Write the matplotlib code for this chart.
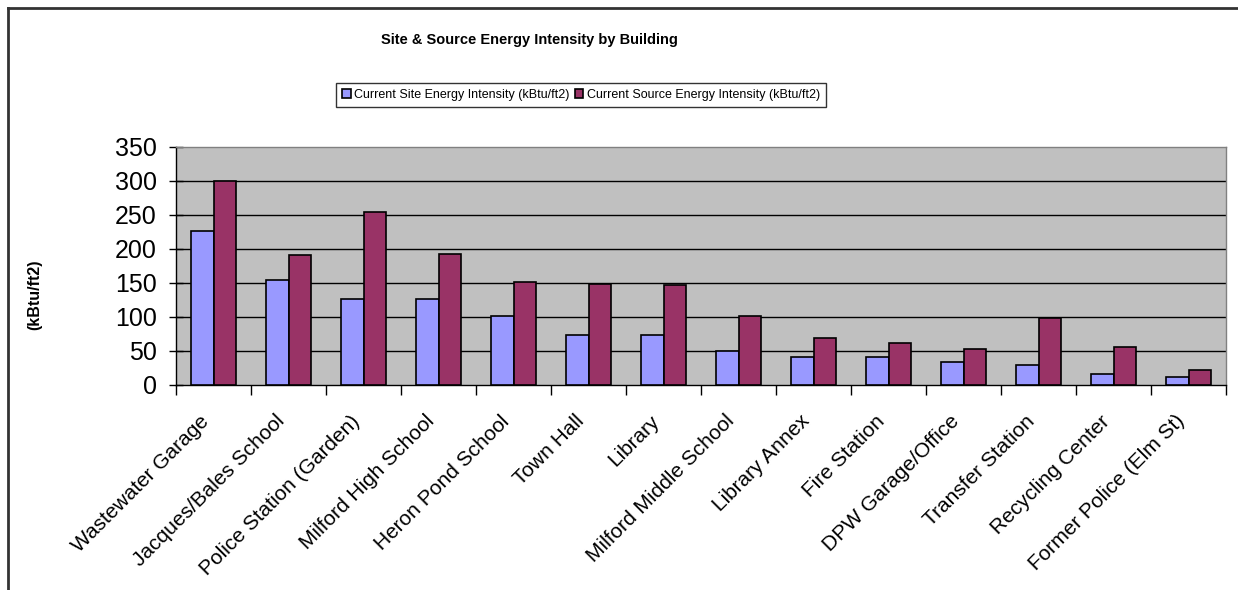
import numpy as np
import matplotlib
matplotlib.use('Agg')
import matplotlib.pyplot as plt
import matplotlib.transforms as mtransforms
from matplotlib.lines import Line2D

plt.rcParams['font.family'] = ['Liberation Sans', 'DejaVu Sans']

# Buildings and their energy intensities (kBtu/ft2)
buildings = ['Wastewater Garage', 'Jacques/Bales School', 'Police Station (Garden)',
             'Milford High School', 'Heron Pond School', 'Town Hall', 'Library',
             'Milford Middle School', 'Library Annex', 'Fire Station',
             'DPW Garage/Office', 'Transfer Station', 'Recycling Center',
             'Former Police (Elm St)']
site_eui = [226, 155, 127, 127, 102, 73, 73, 50.5, 41.5, 41.5, 34, 29.5, 16.5, 12.5]
source_eui = [300, 191, 254, 193, 151, 148.5, 146.5, 101, 69, 62.5, 52.5, 98.5, 56.5, 21.5]
series_names = ['Current Site Energy Intensity (kBtu/ft2)',
                'Current Source Energy Intensity (kBtu/ft2)']
yticks = [0, 50, 100, 150, 200, 250, 300, 350]

site_color = '#9999FF'
source_color = '#993366'

fig = plt.figure(figsize=(12.38, 5.9), dpi=100)
ax = fig.add_axes([176 / 1238, 1 - 385 / 590, 1050 / 1238, 238 / 590])
ax.set_facecolor('#C0C0C0')

x = np.arange(len(buildings))
w = 0.3
ax.bar(x - w / 2, site_eui, w, color=site_color, edgecolor='black', linewidth=1.2,
       label=series_names[0], zorder=3)
ax.bar(x + w / 2, source_eui, w, color=source_color, edgecolor='black', linewidth=1.2,
       label=series_names[1], zorder=3)

ax.set_xlim(-0.5, len(buildings) - 0.5)
ax.set_ylim(0, 350)

# horizontal gridlines
ax.set_yticks(yticks)
ax.set_yticklabels([str(v) for v in yticks], fontsize=18)
for v in yticks[1:-1]:
    ax.axhline(v, color='black', linewidth=1, zorder=1)
ax.tick_params(axis='y', direction='inout', length=10, width=1, pad=9)

# category labels at centers, tick marks between categories
ax.set_xticks(x)
ax.set_xticklabels(buildings, rotation=45, ha='right', va='center',
                   rotation_mode='anchor', fontsize=15)
ax.tick_params(axis='x', which='major', length=0, pad=24)
shift = mtransforms.ScaledTranslation(-7 / 100, 0, fig.dpi_scale_trans)
for lbl in ax.get_xticklabels():
    lbl.set_transform(lbl.get_transform() + shift)
ax.set_xticks(np.arange(len(buildings) + 1) - 0.5, minor=True)
ax.tick_params(axis='x', which='minor', direction='out', length=7, width=1)

ax.spines['left'].set_color('black')
ax.spines['bottom'].set_color('black')
ax.spines['top'].set_color('#808080')
ax.spines['right'].set_color('#808080')
for s in ax.spines.values():
    s.set_linewidth(1)

ax.set_ylabel('(kBtu/ft2)', fontsize=11.5, fontweight='bold')
ax.yaxis.set_label_coords(42 / 1238, 0.5, transform=fig.transFigure)

fig.text(529 / 1238, 1 - 40 / 590, 'Site & Source Energy Intensity by Building',
         ha='center', va='center', fontsize=10.5, fontweight='bold')

leg = fig.legend(loc='center', bbox_to_anchor=(581 / 1238, 1 - 95 / 590), ncol=2,
                 fontsize=9, frameon=True, fancybox=False, handlelength=0.7,
                 handleheight=0.7, handletextpad=0.3, columnspacing=0.4,
                 borderpad=0.45)
leg.get_frame().set_edgecolor('black')
leg.get_frame().set_linewidth(1)

# chart border (left and top edges)
fig.add_artist(Line2D([8 / 1238, 8 / 1238], [0, 1 - 8 / 590], transform=fig.transFigure,
                      color='#333333', linewidth=2))
fig.add_artist(Line2D([8 / 1238, 1], [1 - 8 / 590, 1 - 8 / 590], transform=fig.transFigure,
                      color='#333333', linewidth=2))

fig.savefig('out.png', dpi=100, facecolor='white')
